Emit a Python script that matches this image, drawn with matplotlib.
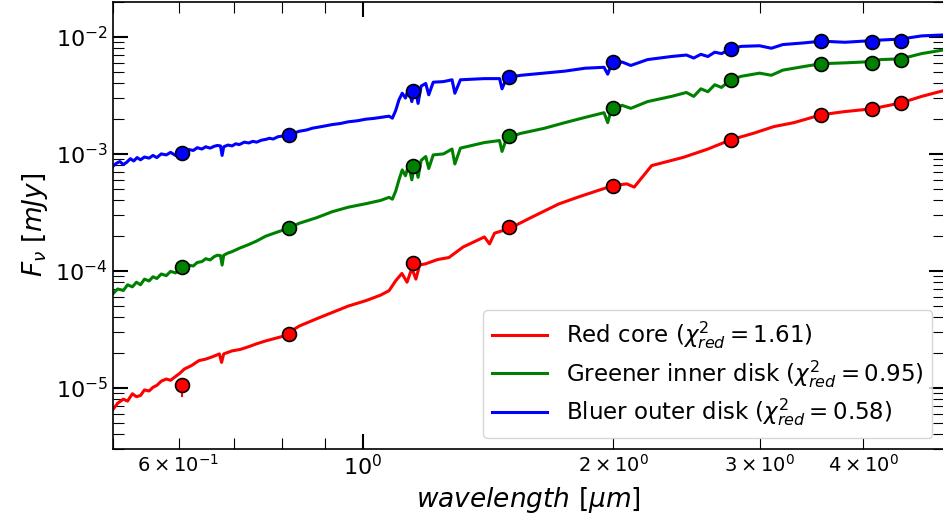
import numpy as np
import matplotlib
matplotlib.use("Agg")
import matplotlib.pyplot as plt

# photometric wavelengths (micron)
phot_wave = [0.606, 0.814, 1.15, 1.50, 2.00, 2.77, 3.56, 4.10, 4.44]
red_phot = [1.06e-5, 2.88e-5, 1.16e-4, 2.36e-4, 5.36e-4, 1.32e-3, 2.16e-3, 2.43e-3, 2.73e-3]
green_phot = [1.07e-4, 2.31e-4, 7.94e-4, 1.415e-3, 2.475e-3, 4.32e-3, 5.89e-3, 6.04e-3, 6.37e-3]
blue_phot = [1.02e-3, 1.454e-3, 3.43e-3, 4.58e-3, 6.16e-3, 7.91e-3, 9.18e-3, 9.01e-3, 9.31e-3]

# model spectra (micron, mJy)
blue_wave = [0.500, 0.505, 0.510, 0.515, 0.520, 0.525, 0.530, 0.535, 0.540, 0.546, 0.553, 0.559,
             0.565, 0.572, 0.580, 0.587, 0.595, 0.602, 0.610, 0.617, 0.625, 0.632, 0.640, 0.647,
             0.655, 0.662, 0.668, 0.674, 0.677, 0.680, 0.688, 0.696, 0.703, 0.710, 0.720, 0.729,
             0.737, 0.745, 0.755, 0.764, 0.772, 0.780, 0.790, 0.800, 0.813, 0.825, 0.838, 0.855,
             0.870, 0.895, 0.918, 0.940, 0.960, 0.985, 1.008, 1.030, 1.050, 1.075, 1.085, 1.095,
             1.105, 1.115, 1.125, 1.135, 1.145, 1.155, 1.165, 1.175, 1.190, 1.200, 1.215, 1.250,
             1.280, 1.290, 1.310, 1.400, 1.460, 1.470, 1.490, 1.550, 1.650, 1.750, 1.850, 1.950,
             1.970, 1.990, 2.050, 2.100, 2.200, 2.350, 2.450, 2.500, 2.550, 2.600, 2.650, 2.700,
             2.770, 2.850, 3.000, 3.100, 3.200, 3.400, 3.560, 3.800, 4.000, 4.200, 4.440, 4.700,
             5.000]
blue_flux = [7.8e-4, 8.3e-4, 8.6e-4, 8.1e-4, 8.5e-4, 9.1e-4, 8.7e-4, 9.3e-4, 8.9e-4, 9.4e-4, 9.2e-4, 9.7e-4,
             9.3e-4, 1.0e-3, 9.8e-4, 1.03e-3, 9.7e-4, 1.05e-3, 1.04e-3, 1.09e-3, 1.07e-3, 1.13e-3, 1.10e-3, 1.15e-3,
             1.12e-3, 1.16e-3, 1.18e-3, 1.17e-3, 9.7e-4, 1.15e-3, 1.19e-3, 1.17e-3, 1.22e-3, 1.20e-3, 1.26e-3, 1.24e-3,
             1.28e-3, 1.26e-3, 1.31e-3, 1.33e-3, 1.36e-3, 1.34e-3, 1.40e-3, 1.42e-3, 1.46e-3, 1.50e-3, 1.56e-3, 1.60e-3,
             1.66e-3, 1.72e-3, 1.78e-3, 1.82e-3, 1.88e-3, 1.92e-3, 1.98e-3, 2.01e-3, 2.05e-3, 2.10e-3, 2.02e-3, 2.35e-3,
             2.9e-3, 3.3e-3, 3.0e-3, 3.6e-3, 2.8e-3, 3.7e-3, 2.7e-3, 3.8e-3, 4.0e-3, 3.2e-3, 4.1e-3, 4.15e-3,
             4.3e-3, 3.3e-3, 4.3e-3, 4.4e-3, 4.4e-3, 3.6e-3, 4.5e-3, 4.7e-3, 4.9e-3, 5.1e-3, 5.4e-3, 5.5e-3,
             4.8e-3, 5.8e-3, 6.1e-3, 5.7e-3, 6.4e-3, 6.8e-3, 7.0e-3, 6.6e-3, 7.1e-3, 6.8e-3, 7.4e-3, 7.2e-3,
             7.9e-3, 8.3e-3, 8.4e-3, 8.0e-3, 8.6e-3, 8.9e-3, 9.2e-3, 9.0e-3, 9.2e-3, 9.4e-3, 9.6e-3, 1.02e-2,
             1.04e-2]

green_wave = [0.500, 0.507, 0.515, 0.521, 0.528, 0.534, 0.540, 0.546, 0.553, 0.559, 0.565, 0.572,
              0.580, 0.587, 0.595, 0.602, 0.610, 0.617, 0.625, 0.632, 0.640, 0.647, 0.655, 0.662,
              0.668, 0.674, 0.677, 0.680, 0.688, 0.696, 0.710, 0.729, 0.745, 0.764, 0.785, 0.813,
              0.838, 0.880, 0.918, 0.960, 1.008, 1.050, 1.075, 1.085, 1.095, 1.105, 1.115, 1.125,
              1.135, 1.145, 1.155, 1.165, 1.175, 1.190, 1.200, 1.215, 1.250, 1.280, 1.290, 1.310,
              1.400, 1.460, 1.470, 1.490, 1.550, 1.650, 1.750, 1.850, 1.950, 1.970, 1.990, 2.050,
              2.100, 2.200, 2.350, 2.450, 2.500, 2.550, 2.600, 2.650, 2.700, 2.770, 2.850, 3.000,
              3.100, 3.200, 3.400, 3.560, 3.800, 4.000, 4.200, 4.440, 4.700, 5.000]
green_flux = [6.35e-5, 7.0e-5, 6.8e-5, 7.6e-5, 7.3e-5, 8.0e-5, 7.6e-5, 8.5e-5, 8.2e-5, 8.9e-5, 8.6e-5, 9.4e-5,
              9.1e-5, 9.9e-5, 9.6e-5, 1.04e-4, 1.06e-4, 1.12e-4, 1.10e-4, 1.18e-4, 1.20e-4, 1.27e-4, 1.24e-4, 1.32e-4,
              1.36e-4, 1.35e-4, 1.12e-4, 1.36e-4, 1.42e-4, 1.46e-4, 1.56e-4, 1.68e-4, 1.80e-4, 1.98e-4, 2.12e-4, 2.31e-4,
              2.55e-4, 2.85e-4, 3.2e-4, 3.5e-4, 3.75e-4, 4.0e-4, 4.25e-4, 4.1e-4, 4.8e-4, 6.0e-4, 7.3e-4, 6.5e-4,
              8.0e-4, 6.0e-4, 8.3e-4, 6.3e-4, 8.8e-4, 9.5e-4, 7.5e-4, 9.8e-4, 1.0e-3, 1.1e-3, 8.2e-4, 1.12e-3,
              1.25e-3, 1.3e-3, 1.05e-3, 1.38e-3, 1.5e-3, 1.65e-3, 1.85e-3, 2.05e-3, 2.25e-3, 1.85e-3, 2.4e-3, 2.6e-3,
              2.45e-3, 2.8e-3, 3.1e-3, 3.35e-3, 3.1e-3, 3.6e-3, 3.4e-3, 3.9e-3, 3.7e-3, 4.3e-3, 4.6e-3, 4.9e-3,
              4.7e-3, 5.2e-3, 5.6e-3, 5.9e-3, 6.0e-3, 6.1e-3, 6.4e-3, 6.5e-3, 7.2e-3, 7.75e-3]

red_wave = [0.500, 0.507, 0.515, 0.521, 0.528, 0.534, 0.540, 0.546, 0.553, 0.559, 0.565, 0.572,
            0.580, 0.587, 0.595, 0.602, 0.610, 0.622, 0.635, 0.647, 0.660, 0.672, 0.676, 0.680,
            0.696, 0.712, 0.729, 0.745, 0.764, 0.780, 0.800, 0.838, 0.880, 0.918, 0.960, 1.008,
            1.050, 1.075, 1.096, 1.114, 1.130, 1.145, 1.158, 1.170, 1.190, 1.230, 1.269, 1.320,
            1.400, 1.420, 1.440, 1.500, 1.600, 1.720, 1.820, 1.917, 2.000, 2.077, 2.120, 2.225,
            2.430, 2.600, 2.770, 2.950, 3.120, 3.300, 3.560, 3.800, 4.100, 4.440, 4.700, 5.000]
red_flux = [6.5e-6, 7.4e-6, 8.0e-6, 7.7e-6, 8.9e-6, 8.4e-6, 8.6e-6, 9.6e-6, 9.4e-6, 1.01e-5, 1.05e-5, 1.14e-5,
            1.19e-5, 1.16e-5, 1.25e-5, 1.33e-5, 1.45e-5, 1.55e-5, 1.71e-5, 1.76e-5, 1.85e-5, 1.95e-5, 1.65e-5, 1.95e-5,
            2.07e-5, 2.13e-5, 2.25e-5, 2.38e-5, 2.52e-5, 2.62e-5, 2.75e-5, 3.37e-5, 3.9e-5, 4.4e-5, 5.0e-5, 5.56e-5,
            6.2e-5, 6.77e-5, 8.3e-5, 9.5e-5, 8.0e-5, 1.05e-4, 8.5e-5, 1.12e-4, 1.15e-4, 1.25e-4, 1.3e-4, 1.6e-4,
            1.95e-4, 1.7e-4, 2.1e-4, 2.3e-4, 2.9e-4, 3.73e-4, 4.3e-4, 4.86e-4, 5.36e-4, 5.54e-4, 5.2e-4, 7.94e-4,
            9.35e-4, 1.1e-3, 1.32e-3, 1.5e-3, 1.71e-3, 1.85e-3, 2.16e-3, 2.3e-3, 2.43e-3, 2.73e-3, 3.1e-3, 3.48e-3]

labels = [r"Red core ($\chi^2_{red} = 1.61$)",
          r"Greener inner disk ($\chi^2_{red} = 0.95$)",
          r"Bluer outer disk ($\chi^2_{red} = 0.58$)"]
colors = ["red", "green", "blue"]

fig = plt.figure(figsize=(9.43, 5.21), dpi=100)
ax = fig.add_axes([112.7 / 943, 1 - 449 / 521, 1 - 112.7 / 943 + 0.001, (449 - 1.7) / 521])

waves = [red_wave, green_wave, blue_wave]
fluxes = [red_flux, green_flux, blue_flux]
phots = [red_phot, green_phot, blue_phot]
for w, f, c, lab in zip(waves, fluxes, colors, labels):
    ax.plot(w, f, color=c, lw=2.2, label=lab, zorder=2)
for p, c in zip(phots, colors):
    ax.plot(phot_wave, p, 'o', color=c, mec='black', mew=1.2, ms=10, zorder=3)
ax.errorbar([phot_wave[0]], [red_phot[0]], yerr=[[2.2e-6], [1.0e-6]], fmt='none',
            ecolor='red', elinewidth=1.5, zorder=2.5)

ax.set_xscale('log')
ax.set_yscale('log')
ax.set_xlim(0.5, 5.0)
ax.set_ylim(3e-6, 2e-2)

ax.tick_params(which='both', direction='in', top=True, right=True)
ax.tick_params(which='major', length=11, width=1.5, labelsize=16)
ax.tick_params(which='minor', length=8, width=0.8, labelsize=14)
for s in ax.spines.values():
    s.set_linewidth(1.2)

ax.set_xlabel(r'$wavelength\ [\mu m]$', fontsize=19)
ax.set_ylabel(r'$F_{\nu}\ [mJy]$', fontsize=19)

ax.legend(loc='lower right', fontsize=16.5, handlelength=2.4, labelspacing=0.3,
          borderaxespad=0.5)

fig.savefig('out.png', dpi=100)
